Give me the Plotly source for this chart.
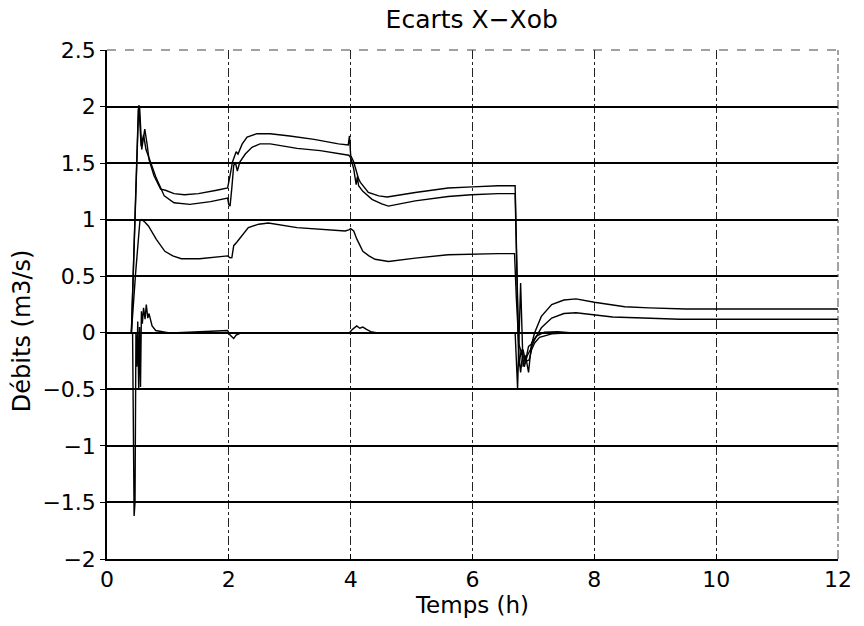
import plotly.graph_objects as go

# Time axis (hours) and flow deviations (m3/s) for the four state variables
t_a = [0, 0.40, 0.52, 0.535, 0.57, 0.62, 0.66, 0.69, 0.77, 0.88, 0.96, 1.1, 1.27, 1.5,
       1.8, 1.98, 2.02, 2.06, 2.12, 2.15, 2.22, 2.3, 2.46, 2.68, 3.0, 3.4, 3.8, 3.96,
       3.98, 4.0, 4.05, 4.1, 4.13, 4.16, 4.2, 4.29, 4.46, 4.6, 5.06, 5.6, 6.0, 6.42,
       6.70, 6.73, 6.76, 6.79, 6.83, 6.87, 6.92, 6.97, 7.02, 7.13, 7.3, 7.5, 7.7, 8.0,
       8.5, 8.9, 9.5, 12]
x_a = [0, 0, 2.01, 2.0, 1.62, 1.80, 1.66, 1.53, 1.39, 1.27, 1.26, 1.23, 1.22, 1.23,
       1.26, 1.28, 1.39, 1.51, 1.60, 1.58, 1.67, 1.73, 1.76, 1.76, 1.74, 1.71, 1.67, 1.66,
       1.74, 1.57, 1.51, 1.42, 1.36, 1.33, 1.30, 1.24, 1.21, 1.20, 1.24, 1.28, 1.29, 1.30,
       1.30, 0.6, -0.2, -0.35, -0.15, -0.25, -0.12, -0.1, 0.0, 0.145, 0.25, 0.29, 0.30, 0.27,
       0.23, 0.22, 0.21, 0.21]

t_b = [0, 0.40, 0.515, 0.53, 0.56, 0.60, 0.64, 0.67, 0.72, 0.80, 0.94, 1.1, 1.22, 1.36,
       1.7, 1.98, 2.0, 2.02, 2.05, 2.08, 2.11, 2.14, 2.18, 2.27, 2.38, 2.51, 2.68, 3.12,
       3.5, 3.91, 3.97, 4.0, 4.05, 4.09, 4.11, 4.13, 4.2, 4.35, 4.51, 4.62, 5.06, 5.6,
       5.98, 6.42, 6.70, 6.73, 6.76, 6.8, 6.85, 6.9, 6.95, 7.02, 7.13, 7.3, 7.5, 7.7,
       8.0, 8.3, 8.8, 9.4, 12]
x_b = [0, 0, 1.98, 1.95, 1.65, 1.75, 1.62, 1.58, 1.50, 1.38, 1.21, 1.15, 1.14, 1.135,
       1.16, 1.19, 1.13, 1.12, 1.285, 1.48, 1.50, 1.43, 1.51, 1.58, 1.64, 1.67, 1.67, 1.63,
       1.61, 1.58, 1.57, 1.55, 1.45, 1.31, 1.38, 1.30, 1.25, 1.18, 1.14, 1.12, 1.166, 1.205,
       1.22, 1.23, 1.23, 0.5, -0.3, -0.15, -0.3, -0.2, -0.15, -0.06, 0.044, 0.13, 0.17, 0.177,
       0.16, 0.14, 0.13, 0.12, 0.12]

t_c = [0, 0.40, 0.47, 0.54, 0.57, 0.62, 0.68, 0.81, 0.95, 1.08, 1.22, 1.52, 1.98, 2.02,
       2.05, 2.08, 2.13, 2.21, 2.32, 2.49, 2.65, 3.12, 3.5, 3.91, 3.97, 4.0, 4.05, 4.1,
       4.2, 4.3, 4.4, 4.55, 4.62, 5.06, 5.6, 6.42, 6.69, 6.72, 6.76, 6.82, 6.88, 6.93,
       6.97, 7.02, 7.1, 7.3, 7.6, 12]
x_c = [0, 0, 0.53, 0.99, 1.0, 0.98, 0.944, 0.826, 0.72, 0.68, 0.655, 0.655, 0.68, 0.663,
       0.665, 0.77, 0.80, 0.855, 0.93, 0.96, 0.97, 0.93, 0.915, 0.90, 0.91, 0.92, 0.90, 0.83,
       0.72, 0.68, 0.65, 0.635, 0.63, 0.66, 0.69, 0.70, 0.70, 0.3, -0.1, -0.2, -0.25, -0.24,
       -0.15, -0.09, -0.04, -0.01, 0.0, 0.0]

t_d = [0, 0.42, 0.445, 0.46, 0.475, 0.49, 0.505, 0.52, 0.535, 0.55, 0.565, 0.58, 0.60,
       0.625, 0.645, 0.67, 0.69, 0.71, 0.74, 0.80, 0.9, 1.0, 1.15, 1.98, 2.02, 2.08, 2.12,
       2.2, 2.4, 3.98, 4.03, 4.1, 4.15, 4.2, 4.26, 4.33, 4.42, 6.70, 6.74, 6.79, 6.83,
       6.87, 6.92, 6.97, 7.05, 7.18, 7.4, 7.6, 12]
x_d = [0, 0, -1.62, -1.5, 0.0, -0.3, 0.1, -0.49, 0.05, -0.48, 0.19, 0.08, 0.22,
       0.12, 0.25, 0.13, 0.17, 0.12, 0.06, 0.02, 0.008, 0.0, 0.0, 0.02, -0.02, -0.05, -0.02,
       0.0, 0.0, 0.0, 0.03, 0.06, 0.04, 0.05, 0.03, 0.01, 0.0, 0.0, -0.49, 0.44, -0.3,
       -0.2, -0.35, -0.09, -0.03, 0.006, 0.01, 0.0, 0.0]

x_ticks = [0, 2, 4, 6, 8, 10, 12]
y_ticks = [-2, -1.5, -1, -0.5, 0, 0.5, 1, 1.5, 2, 2.5]
y_labels = ["\u22122", "\u22121.5", "\u22121", "\u22120.5", "0", "0.5", "1", "1.5", "2", "2.5"]

fig = go.Figure()
for tt, xx in [(t_a, x_a), (t_b, x_b), (t_c, x_c), (t_d, x_d)]:
    fig.add_trace(go.Scatter(x=tt, y=xx, mode="lines",
                             line=dict(color="black", width=1.4),
                             showlegend=False, hoverinfo="skip"))

tick_font = dict(family="DejaVu Sans, sans-serif", size=22, color="black")
label_font = dict(family="DejaVu Sans, sans-serif", size=23, color="black")

fig.update_layout(
    width=864, height=626,
    margin=dict(l=107, r=22, t=50, b=67),
    paper_bgcolor="white", plot_bgcolor="white",
    title=dict(text="Ecarts X\u2212Xob", x=0.546, xanchor="center", y=0.97, yanchor="middle",
               font=dict(family="Liberation Sans Narrow, DejaVu Sans, sans-serif",
                         size=25, color="black")),
    xaxis=dict(range=[0, 12], tickvals=x_ticks, ticktext=[str(v) for v in x_ticks],
               showgrid=True, gridcolor="#222222", gridwidth=1, griddash="dashdot",
               zeroline=False, showline=True, linecolor="black", linewidth=1.5,
               ticks="inside", ticklen=5, tickcolor="black", tickfont=tick_font,
               ticklabelstandoff=0,
               title=dict(text="Temps (h)", font=label_font, standoff=0)),
    yaxis=dict(range=[-2, 2.5], tickvals=y_ticks, ticktext=y_labels,
               showgrid=True, gridcolor="black", gridwidth=1.8,
               zeroline=True, zerolinecolor="black", zerolinewidth=1.8,
               showline=True, linecolor="black", linewidth=1.5,
               ticks="outside", ticklen=5, tickcolor="black", tickfont=tick_font),
)

# Vertical axis title
fig.add_annotation(text="Débits (m3/s)", textangle=-90, xref="paper", yref="paper",
                   x=-0.116, y=0.448, xanchor="center", yanchor="middle",
                   showarrow=False, font=dict(family="DejaVu Sans, sans-serif", size=24, color="black"))

# Dashed frame along the top and right edges
fig.add_shape(type="line", xref="paper", yref="paper", x0=0, x1=1, y0=1, y1=1,
              line=dict(color="#444444", width=1.2, dash="dash"), layer="above")
fig.add_shape(type="line", xref="paper", yref="paper", x0=1, x1=1, y0=0, y1=1,
              line=dict(color="#444444", width=1, dash="dashdot"), layer="above")

fig.write_html("out.html")
